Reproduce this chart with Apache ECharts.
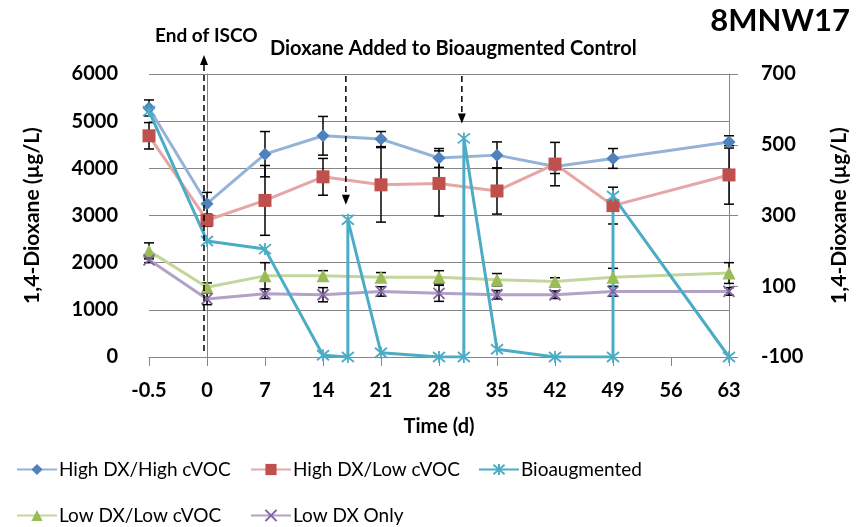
<!DOCTYPE html>
<html><head><meta charset="utf-8">
<script src="https://cdn.jsdelivr.net/npm/echarts@6/dist/echarts.min.js"></script>
<style>html,body{margin:0;padding:0;background:#fff}#c{width:858px;height:527px}</style>
</head><body><div id="c"></div>
<script>
// ---- data ----
const days = [-7, 0, 7, 14, 21, 28, 35, 42, 49, 63];
const dayTickLabels = { '-7': '-0.5' };
const highHigh    = [5280, 3250, 4300, 4690, 4620, 4220, 4280, 4040, 4210, 4560];
const highHighErr = [170, 240, 480, 410, 160, 200, 280, 150, 210, 130];
const highLow     = [4690, 2900, 3320, 3820, 3650, 3680, 3520, 4090, 3210, 3860];
const highLowErr  = [280, 130, 740, 390, 790, 690, 490, 460, 390, 620];
const lowLow      = [2250, 1480, 1720, 1720, 1690, 1690, 1640, 1600, 1690, 1780];
const lowLowErr   = [170, 90, 280, 110, 100, 140, 130, 80, 190, 220];
const lowOnly     = [2060, 1230, 1340, 1320, 1390, 1350, 1320, 1320, 1390, 1390];
const lowOnlyErr  = [60, 120, 100, 150, 100, 170, 90, 80, 100, 80];
const bioDays = [-7, 0, 7, 14, 17, 17, 21, 28, 31, 31, 35, 42, 49, 49, 63];
const bioVals = [595, 228, 205, -95, -100, 288, -88, -100, -100, 518, -78, -100, -100, 355, -100];
const seriesNames = ['High DX/High cVOC', 'High DX/Low cVOC', 'Bioaugmented', 'Low DX/Low cVOC', 'Low DX Only'];
const iscoDay = 0;
const dioxaneDays = [17, 31];

const FONT = 'Lato';
const xPath = 'path://M0,0L10,10M10,0L0,10';
const starPath = 'path://M0,0L10,10M10,0L0,10M5,-1L5,11';

function pairs(xs, ys) { return xs.map((x, i) => [x, ys[i]]); }

function errSeries(vals, errs) {
  return {
    type: 'custom', xAxisIndex: 0, yAxisIndex: 0, z: 1, silent: true,
    data: days.map((d, i) => [d, vals[i] - errs[i], vals[i] + errs[i]]),
    encode: { x: 0, y: [1, 2] },
    renderItem: (params, api) => {
      const x = api.value(0);
      const lo = api.coord([x, api.value(1)]);
      const hi = api.coord([x, api.value(2)]);
      const w = 5;
      const style = { stroke: '#000', lineWidth: 1.5, fill: null };
      return { type: 'group', children: [
        { type: 'line', shape: { x1: lo[0], y1: lo[1], x2: hi[0], y2: hi[1] }, style },
        { type: 'line', shape: { x1: lo[0] - w, y1: lo[1], x2: lo[0] + w, y2: lo[1] }, style },
        { type: 'line', shape: { x1: hi[0] - w, y1: hi[1], x2: hi[0] + w, y2: hi[1] }, style }
      ]};
    }
  };
}

function lineSeries(name, data, yIdx, lineColor, markColor, symbol, size, stroked) {
  return {
    name, type: 'line', data, yAxisIndex: yIdx, z: 2,
    symbol, symbolSize: size, showSymbol: true,
    lineStyle: { color: lineColor, width: 3 },
    itemStyle: stroked ? { color: 'none', borderColor: markColor, borderWidth: 1.8 } : { color: markColor, borderWidth: 0 },
    emphasis: { disabled: true }, animation: false
  };
}

const legendPos = [[16, 460], [250, 460], [478, 460], [16, 506], [250, 506]];
const legends = seriesNames.map((n, i) => ({
  data: [n], left: legendPos[i][0], top: legendPos[i][1], padding: 0,
  itemWidth: 40, itemHeight: 14, itemGap: 4,
  textStyle: { fontFamily: FONT, fontSize: 19, color: '#000', padding: [0, 0, 0, -3] },
  selectedMode: false
}));

const axisGray = '#868686';
const labelText = { fontFamily: FONT, fontWeight: 'bold', fontSize: 20, color: '#000' };
const option = {
  animation: false,
  backgroundColor: '#fff',
  grid: { left: 149, right: 122, top: 74, bottom: 170, containLabel: false },
  legend: legends,
  xAxis: {
    type: 'value', min: -7, max: 63, interval: 7,
    axisLine: { show: true, onZero: false, lineStyle: { color: axisGray, width: 1 } },
    axisTick: { show: true, inside: false, length: 9, lineStyle: { color: axisGray, width: 1 } },
    axisLabel: Object.assign({ margin: 24,
      formatter: v => (dayTickLabels[String(v)] !== undefined ? dayTickLabels[String(v)] : String(v)) }, labelText),
    splitLine: { show: false },
    name: 'Time (d)', nameLocation: 'middle', nameGap: 60,
    nameTextStyle: labelText
  },
  yAxis: [{
    type: 'value', min: 0, max: 6000, interval: 1000, position: 'left',
    axisLine: { show: true, lineStyle: { color: axisGray, width: 1 } },
    axisTick: { show: true, length: 8, lineStyle: { color: axisGray, width: 1 } },
    axisLabel: Object.assign({ margin: 31, formatter: v => String(v) }, labelText),
    splitLine: { show: true, lineStyle: { color: axisGray, width: 1 } },
    name: '1,4-Dioxane (µg/L)', nameLocation: 'middle', nameGap: 106, nameRotate: 90,
    nameTextStyle: Object.assign({}, labelText, { fontSize: 21 })
  }, {
    type: 'value', min: -100, max: 700, interval: 200, position: 'right',
    axisLine: { show: true, lineStyle: { color: axisGray, width: 1 } },
    axisTick: { show: true, length: 9, lineStyle: { color: axisGray, width: 1 } },
    axisLabel: Object.assign({ margin: 32, formatter: v => String(v) }, labelText),
    splitLine: { show: false },
    name: '1,4-Dioxane (µg/L)', nameLocation: 'middle', nameGap: 100, nameRotate: 90,
    nameTextStyle: Object.assign({}, labelText, { fontSize: 21 })
  }],
  series: [
    errSeries(highHigh, highHighErr),
    errSeries(highLow, highLowErr),
    errSeries(lowLow, lowLowErr),
    errSeries(lowOnly, lowOnlyErr),
    lineSeries(seriesNames[0], pairs(days, highHigh), 0, '#95B3D7', '#4F81BD', 'diamond', 13, false),
    lineSeries(seriesNames[1], pairs(days, highLow), 0, '#E6A6A5', '#C0504D', 'rect', 13, false),
    lineSeries(seriesNames[3], pairs(days, lowLow), 0, '#C3D69B', '#9BBB59', 'triangle', 13, false),
    lineSeries(seriesNames[4], pairs(days, lowOnly), 0, '#B3A2C7', '#8064A2', xPath, 11, true),
    lineSeries(seriesNames[2], pairs(bioDays, bioVals), 1, '#4BACC6', '#4BACC6', starPath, 12, true)
  ]
};

const chart = echarts.init(document.getElementById('c'), null, { renderer: 'canvas' });
chart.setOption(option);

// ---- annotations placed from data coordinates ----
const BIO_IDX = 8, LEFT_IDX = 4;
const toPx = (idx, d, v) => chart.convertToPixel({ seriesIndex: idx }, [d, v]);
const g = [];
const dash = { stroke: '#000', lineWidth: 1.5, lineDash: [6, 4] };
{
  const b = toPx(LEFT_IDX, iscoDay, 0);
  const t = toPx(LEFT_IDX, iscoDay, 6000);
  const x = b[0] - 3, tip = t[1] - 19;
  g.push({ type: 'line', shape: { x1: x, y1: b[1] - 6, x2: x, y2: tip + 8 }, style: dash, z: 10 });
  g.push({ type: 'polygon', shape: { points: [[x - 4, tip + 10], [x + 4, tip + 10], [x, tip]] }, style: { fill: '#000' }, z: 10 });
}
dioxaneDays.forEach(d => {
  const i = bioDays.lastIndexOf(d);
  const m = toPx(BIO_IDX, d, bioVals[i]);
  const t = toPx(LEFT_IDX, d, 6000);
  const x = m[0] - 2, tip = m[1] - 15;
  g.push({ type: 'line', shape: { x1: x, y1: t[1] + 2, x2: x, y2: tip - 8 }, style: dash, z: 10 });
  g.push({ type: 'polygon', shape: { points: [[x - 4, tip - 10], [x + 4, tip - 10], [x, tip]] }, style: { fill: '#000' }, z: 10 });
});
g.push({ type: 'text', left: 155, top: 26, z: 10, style: { text: 'End of ISCO', fontFamily: FONT, fontWeight: 'bold', fontSize: 19, fill: '#000' } });
g.push({ type: 'text', left: 270, top: 39, z: 10, style: { text: 'Dioxane Added to Bioaugmented Control', fontFamily: FONT, fontWeight: 'bold', fontSize: 20, fill: '#000' } });
g.push({ type: 'text', right: 8, top: 5, z: 10, style: { text: '8MNW17', fontFamily: FONT, fontWeight: 'bold', fontSize: 31, fill: '#000' } });
chart.setOption({ graphic: g });
</script></body></html>
